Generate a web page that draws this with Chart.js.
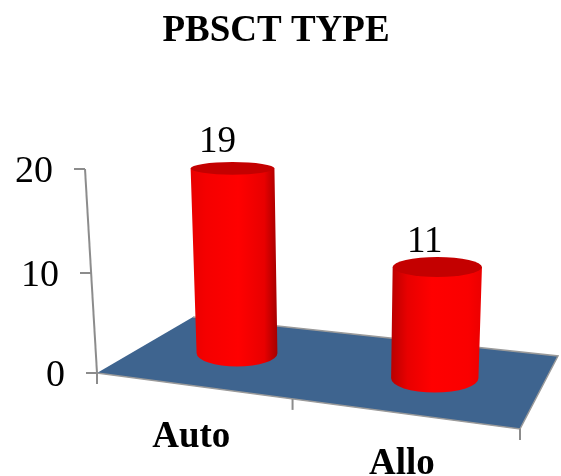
<!DOCTYPE html>
<html>
<head>
<meta charset="utf-8">
<style>html,body{margin:0;padding:0;background:#fff}#wrap{width:561px;height:476px}</style>
<script src="https://cdn.jsdelivr.net/npm/chart.js@4"></script>
</head>
<body>
<div id="wrap"><canvas id="c" width="561" height="476"></canvas></div>
<script>
const categories = ['Auto', 'Allo'];
const patients = [19, 11];
const yTicks = [0, 10, 20];
const chartTitle = 'PBSCT TYPE';

const SERIF = '"Liberation Serif", "Times New Roman", serif';
// Corners of the floor in canvas space: front-left, front-right, back-right, back-left.
const FLOOR = [[97, 373], [520, 429], [558, 356], [193, 317]];

// Projective map of the unit square on to the floor quad.
function floorPoint(u, v) {
  const [[x0, y0], [x1, y1], [x2, y2], [x3, y3]] = FLOOR;
  const dx1 = x1 - x2, dx2 = x3 - x2, sx = x0 - x1 + x2 - x3;
  const dy1 = y1 - y2, dy2 = y3 - y2, sy = y0 - y1 + y2 - y3;
  const den = dx1 * dy2 - dx2 * dy1;
  const g = (sx * dy2 - dx2 * sy) / den;
  const h = (dx1 * sy - sx * dy1) / den;
  const a = x1 - x0 + g * x1, b = x3 - x0 + h * x3;
  const d = y1 - y0 + g * y1, e = y3 - y0 + h * y3;
  const w = g * u + h * v + 1;
  return [(a * u + b * v + x0) / w, (d * u + e * v + y0) / w];
}

const mix = (a, b, t) => a + (b - a) * t;
const red = l => `rgb(${Math.round(l)},0,0)`;

function drawCylinder(ctx, u, unitHeight) {
  const t = (u - 0.25) / 0.5;
  const [fx, fy] = floorPoint(u, 0.5);
  const bx = fx + 2.5 * t, by = fy + 2 * t;
  const h = unitHeight * (0.99 + 0.00152 * (by - 377));
  const topX = bx + 0.000238 * (bx - 339) * h;
  const topY = by - h;
  const rBase = 43.5 + 0.13 * (by - 377);
  const rTop = rBase * (1 + 0.0002 * h);
  const ryAt = y => 6.3 + 0.038 * (y - 169);

  const grad = ctx.createLinearGradient(Math.min(topX - rTop, bx - rBase), 0, Math.max(topX + rTop, bx + rBase), 0);
  grad.addColorStop(0, red(mix(232, 185, t)));
  grad.addColorStop(0.18, red(mix(245, 232, t)));
  grad.addColorStop(mix(0.55, 0.45, t), red(255));
  grad.addColorStop(0.85, red(mix(232, 250, t)));
  grad.addColorStop(1, red(mix(165, 235, t)));

  ctx.beginPath();
  ctx.moveTo(topX - rTop, topY);
  ctx.lineTo(bx - rBase, by);
  ctx.ellipse(bx, by, rBase, ryAt(by), 0, Math.PI, 0, true);
  ctx.lineTo(topX + rTop, topY);
  ctx.closePath();
  ctx.fillStyle = grad;
  ctx.fill();

  ctx.beginPath();
  ctx.ellipse(topX, topY, rTop, ryAt(topY), 0, 0, Math.PI * 2);
  ctx.fillStyle = '#C40000';
  ctx.fill();
  return [topX, topY];
}

const scene3d = {
  id: 'scene3d',
  beforeDatasetsDraw(chart) {
    const { ctx, scales: { x, y } } = chart;
    ctx.save();
    // floor plate with its lighter rim
    ctx.beginPath();
    FLOOR.forEach((p, i) => i ? ctx.lineTo(p[0], p[1]) : ctx.moveTo(p[0], p[1]));
    ctx.closePath();
    ctx.fillStyle = '#3E648F';
    ctx.fill();
    ctx.strokeStyle = '#9A9A9A';
    ctx.lineWidth = 1.5;
    ctx.beginPath();
    ctx.moveTo(FLOOR[0][0], FLOOR[0][1]);
    ctx.lineTo(FLOOR[1][0], FLOOR[1][1]);
    ctx.lineTo(FLOOR[2][0], FLOOR[2][1]);
    ctx.lineTo(FLOOR[3][0], FLOOR[3][1]);
    ctx.stroke();

    // value axis leaning along the vertical vanishing direction
    const axisPoint = v => {
      const f = v / y.max;
      return [mix(97, 85, f), y.getPixelForValue(v) + 8 * f * (1 - f)];
    };
    ctx.strokeStyle = '#8C8C8C';
    ctx.lineWidth = 2;
    ctx.beginPath();
    const a0 = axisPoint(y.min), a1 = axisPoint(y.max);
    ctx.moveTo(a0[0], a0[1]);
    ctx.lineTo(a1[0], a1[1]);
    ctx.stroke();

    ctx.fillStyle = '#000';
    ctx.font = '38px ' + SERIF;
    ctx.textAlign = 'right';
    ctx.textBaseline = 'middle';
    yTicks.forEach(v => {
      const [px, py] = axisPoint(v);
      ctx.beginPath();
      ctx.moveTo(px, py);
      ctx.lineTo(px - 11, py);
      ctx.stroke();
      ctx.fillText(String(v), px - 32, py + 3);
    });

    // category separators under the front edge
    [0, 0.5, 1].forEach(u => {
      const [px, py] = floorPoint(u, 0);
      ctx.beginPath();
      ctx.moveTo(px, py);
      ctx.lineTo(px, py + 11);
      ctx.stroke();
    });

    ctx.font = 'bold 37px ' + SERIF;
    ctx.textAlign = 'center';
    categories.forEach((name, i) => {
      const u = (x.getPixelForValue(i) - x.left) / (x.right - x.left);
      const [px, py] = floorPoint(u, 0);
      ctx.fillText(name, px, py + 51.5);
    });
    ctx.restore();
  },
  afterDatasetsDraw(chart) {
    const { ctx, scales: { x, y } } = chart;
    ctx.save();
    patients.forEach((value, i) => {
      const u = (x.getPixelForValue(i) - x.left) / (x.right - x.left);
      const unit = y.getPixelForValue(0) - y.getPixelForValue(value);
      const [tx, ty] = drawCylinder(ctx, u, unit);
      ctx.fillStyle = '#000';
      ctx.font = '37px ' + SERIF;
      ctx.textAlign = 'center';
      ctx.textBaseline = 'alphabetic';
      ctx.fillText(String(value), tx - 15 + 2.5 * i, ty - 16 + i);
    });
    ctx.restore();
  }
};

const hiddenAxis = {
  grid: { display: false },
  border: { display: false },
  ticks: { display: false }
};

new Chart(document.getElementById('c'), {
  type: 'bar',
  data: {
    labels: categories,
    datasets: [{ data: patients, backgroundColor: 'rgba(0,0,0,0)', borderWidth: 0 }]
  },
  plugins: [scene3d],
  options: {
    responsive: false,
    animation: false,
    layout: { padding: { left: 0, right: 9, top: 0, bottom: 0 } },
    plugins: {
      legend: { display: false },
      tooltip: { enabled: false },
      title: {
        display: true,
        text: chartTitle,
        color: '#000',
        font: { family: SERIF, size: 37, weight: 'bold', lineHeight: 1.2 },
        padding: { top: 9.5, bottom: 115.1 }
      }
    },
    scales: {
      x: { ...hiddenAxis, afterFit(s) { s.height = 103; } },
      y: { ...hiddenAxis, min: 0, max: 20, afterFit(s) { s.width = 97; } },
      y2: { ...hiddenAxis, position: 'right', afterFit(s) { s.width = 32; } }
    }
  }
});
</script>
</body>
</html>
